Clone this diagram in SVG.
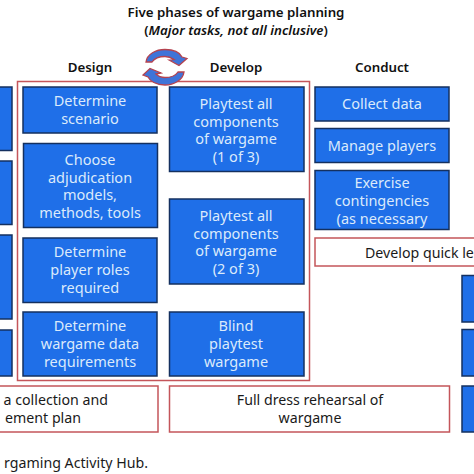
<svg xmlns="http://www.w3.org/2000/svg" width="474" height="474" viewBox="0 0 474 474">
<style>
text{font-family:"Noto Sans","Open Sans","Liberation Sans",sans-serif}
.b{fill:#1f6fe8;stroke:#14305f;stroke-width:1.5}
.w{fill:#fff;stroke:#c4555a;stroke-width:1.5}
.bt{fill:#dbeafb;font-size:14.500px;text-anchor:middle}
.wt{fill:#1a1a1a;font-size:14.200px;text-anchor:middle}
.h{fill:#111;font-size:13.300px;font-weight:600;text-anchor:middle}
.arr{fill:#3f74d8;stroke:#b5434f;stroke-width:1.300}
</style>
<rect width="474" height="474" fill="#fff"/>
<g id="title"><text class="h" x="236" y="17">Five phases of wargame planning</text>
<text class="h" x="236" y="35">(<tspan font-style="italic">Major tasks, not all inclusive</tspan>)</text></g>
<g id="head-design"><text class="h" x="90" y="72">Design</text></g>
<g id="head-develop"><text class="h" x="236" y="72">Develop</text></g>
<g id="head-conduct"><text class="h" x="382" y="72">Conduct</text></g>
<g id="frame"><rect x="17.500" y="81.500" width="292" height="299" fill="none" stroke="#c4555a" stroke-width="1.500"/></g>
<g id="cycle">
<path class="arr" d="M146 62C147 54 156 49.500 165 49.500C174 49.500 180 53 182 57L187 58.500L179 65.500L169 60L174 59.500C171 57.500 168 56.500 165 56.500C159 56.500 154 59 152 62Z"/>
<path class="arr" d="M184 72C183 80 174 85 165 85C156 85 150 81 148 77L143 75L150 68.500L161 73L156 74C158 76 161 77.500 165 77.500C171 77.500 176 75 178 72Z"/>
</g>
<g id="l1"><rect class="b" x="-5" y="87" width="17" height="63.500"/></g>
<g id="l2"><rect class="b" x="-5" y="161" width="17" height="63.500"/></g>
<g id="l3"><rect class="b" x="-5" y="235" width="17" height="84"/></g>
<g id="l4"><rect class="b" x="-5" y="330" width="17" height="46"/></g>
<g id="d1"><rect class="b" x="23" y="87" width="134" height="46"/><text class="bt" x="90" y="106">Determine</text><text class="bt" x="90" y="124">scenario</text></g>
<g id="d2"><rect class="b" x="23.500" y="143.500" width="134" height="84"/><text class="bt" x="90" y="165">Choose</text><text class="bt" x="90" y="183">adjudication</text><text class="bt" x="90" y="200">models,</text><text class="bt" x="90" y="218">methods, tools</text></g>
<g id="d3"><rect class="b" x="23" y="238" width="134" height="64.500"/><text class="bt" x="90" y="257">Determine</text><text class="bt" x="90" y="275">player roles</text><text class="bt" x="90" y="293">required</text></g>
<g id="d4"><rect class="b" x="23" y="312" width="134" height="64"/><text class="bt" x="90" y="331">Determine</text><text class="bt" x="90" y="349">wargame data</text><text class="bt" x="90" y="367">requirements</text></g>
<g id="v1"><rect class="b" x="169.500" y="87" width="134.500" height="84.500"/><text class="bt" x="236" y="109">Playtest all</text><text class="bt" x="236" y="127">components</text><text class="bt" x="236" y="144">of wargame</text><text class="bt" x="236" y="162">(1 of 3)</text></g>
<g id="v2"><rect class="b" x="169.500" y="199" width="134.500" height="85"/><text class="bt" x="236" y="221">Playtest all</text><text class="bt" x="236" y="239">components</text><text class="bt" x="236" y="256">of wargame</text><text class="bt" x="236" y="274">(2 of 3)</text></g>
<g id="v3"><rect class="b" x="169.500" y="312" width="134.500" height="64"/><text class="bt" x="236" y="331">Blind</text><text class="bt" x="236" y="349">playtest</text><text class="bt" x="236" y="367">wargame</text></g>
<g id="c1"><rect class="b" x="315" y="87" width="134" height="34"/><text class="bt" x="382" y="109">Collect data</text></g>
<g id="c2"><rect class="b" x="315" y="128.500" width="134" height="34"/><text class="bt" x="382" y="151">Manage players</text></g>
<g id="c3"><rect class="b" x="315" y="170.500" width="134" height="59"/><text class="bt" x="382" y="188">Exercise</text><text class="bt" x="382" y="206">contingencies</text><text class="bt" x="382" y="224">(as necessary</text></g>
<g id="quick"><rect class="w" x="315" y="238" width="170" height="28"/><text class="wt" x="365" y="258" style="text-anchor:start">Develop quick le</text></g>
<g id="r1"><rect class="b" x="462" y="275.500" width="20" height="46.500"/></g>
<g id="r2"><rect class="b" x="462" y="329.500" width="20" height="46.500"/></g>
<g id="r3"><rect class="b" x="462" y="386" width="20" height="46"/></g>
<g id="bottom-left"><rect class="w" x="-5" y="386" width="163" height="46"/><text class="wt" x="108" y="405" style="text-anchor:end">a collection and</text><text class="wt" x="81" y="423" style="text-anchor:end">ement plan</text></g>
<g id="bottom-mid"><rect class="w" x="169.500" y="386" width="280" height="46"/><text class="wt" x="310" y="405">Full dress rehearsal of</text><text class="wt" x="310" y="423">wargame</text></g>
<text x="148" y="468" style="text-anchor:end;font-size:14.200px" fill="#1a1a1a">rgaming Activity Hub.</text>
</svg>
